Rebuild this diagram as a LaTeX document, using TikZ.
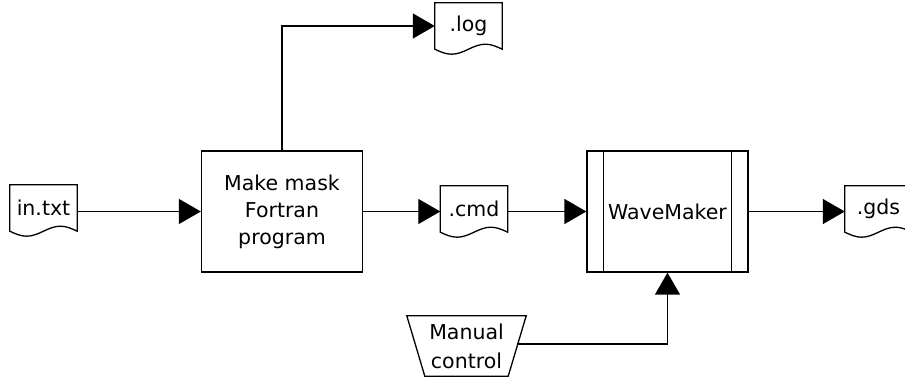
\documentclass[tikz,border=0pt]{standalone}
\usepackage{fontspec}
\setmainfont{DejaVu Sans}
\usetikzlibrary{calc,arrows.meta}
\tikzset{
  ln/.style={line width=1.3pt},
  arr/.style={ln,-{Triangle[length=22pt,width=25pt]}},
  procbox/.style={ln,draw,minimum width=161pt,minimum height=121pt,inner sep=0pt,font=\fontsize{20.5}{27}\selectfont,align=center},
  docbox/.style={draw=none,minimum width=67pt,minimum height=46pt,inner sep=0pt,font=\fontsize{20.5}{25}\selectfont},
  txt/.style={font=\fontsize{20.5}{29}\selectfont,align=center}
}
\newcommand\docoutline[1]{%
  \draw[ln] let \p1=(#1.south west), \p2=(#1.north east), \n1={(\x2-\x1)/4} in
    (\x1,\y1) -- (\x1,\y2) -- (\x2,\y2) -- (\x2,\y1)
    sin (\x2-\n1,\y1+5pt) cos (\x2-2*\n1,\y1) sin (\x2-3*\n1,\y1-5pt) cos (\x1,\y1) -- cycle;}
\begin{document}
\begin{tikzpicture}[x=1pt,y=-1pt]
\useasboundingbox (0,0) rectangle (905,379);
% documents
\node[docbox] (in) at (43.5,208) {in.txt};
\node[docbox] (log) at (468.5,26) {.log};
\node[docbox] (cmd) at (474,209) {.cmd};
\node[docbox] (gds) at (878.5,209) {.gds};
\docoutline{in}
\docoutline{log}
\docoutline{cmd}
\docoutline{gds}
% process boxes
\node[procbox] (mm) at (282,211.5) {Make mask\\Fortran\\program};
\node[procbox] (wm) at (667.5,211.5) {WaveMaker};
\draw[ln] ($(wm.north west)+(17,0)$) -- ($(wm.south west)+(17,0)$);
\draw[ln] ($(wm.north east)+(-17,0)$) -- ($(wm.south east)+(-17,0)$);
% manual input
\node[txt,minimum width=119pt,minimum height=60pt,inner sep=0pt] (man) at (466.5,346) {Manual\\control};
\draw[ln] (man.north west) -- (man.north east) -- ($(man.south east)+(-18,0)$) -- ($(man.south west)+(18,0)$) -- cycle;
\coordinate (manr) at (517,344);
% connectors
\draw[arr] (in.east |- mm.west) -- (mm.west);
\draw[arr] (mm.north) |- (log.west);
\draw[arr] (mm.east) -- (mm.east -| cmd.west);
\draw[arr] (cmd.east |- wm.west) -- (wm.west);
\draw[arr] (wm.east) -- (wm.east -| gds.west);
\draw[arr] (manr) -| (wm.south);
\end{tikzpicture}
\end{document}
